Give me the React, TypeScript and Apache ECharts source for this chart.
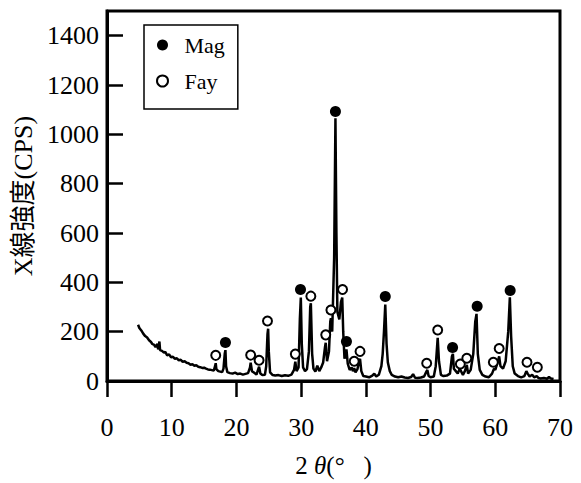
import React, { useEffect, useRef } from "react";
import * as echarts from "echarts";

// XRD pattern: [2θ (deg), intensity (CPS)]
const xrdPattern: [number, number][] = [
  [4.8, 228], [5.0, 215], [5.3, 205], [5.6, 192], [5.9, 182], [6.2, 176], [6.5, 165],
  [6.8, 158], [7.0, 150], [7.3, 146], [7.5, 138], [7.8, 150], [7.9, 128], [8.1, 160],
  [8.2, 125], [8.5, 122], [8.8, 115], [9.0, 118], [9.3, 104], [9.6, 108], [9.9, 96],
  [10.2, 98], [10.5, 90], [10.8, 92], [11.1, 84], [11.4, 86], [11.7, 78], [12.0, 80],
  [12.3, 74], [12.6, 72], [12.9, 66], [13.2, 68], [13.5, 62], [13.8, 64], [14.1, 58],
  [14.4, 56], [14.7, 53], [15.0, 54], [15.3, 50], [15.6, 47], [15.9, 46], [16.2, 44],
  [16.5, 42], [16.7, 60], [16.8, 72], [16.9, 48], [17.2, 40], [17.5, 38], [17.8, 36],
  [18.0, 50], [18.2, 112], [18.3, 125], [18.4, 60], [18.6, 36], [19.0, 32], [19.4, 30],
  [19.8, 34], [20.2, 28], [20.6, 30], [21.0, 26], [21.4, 29], [21.8, 32], [22.1, 55],
  [22.2, 74], [22.4, 40], [22.7, 34], [23.1, 26], [23.4, 50], [23.5, 58], [23.7, 30],
  [24.0, 24], [24.4, 25], [24.6, 60], [24.8, 190], [24.9, 212], [25.0, 120], [25.2, 35],
  [25.6, 24], [26.0, 22], [26.5, 24], [27.0, 20], [27.5, 23], [28.0, 21], [28.5, 26],
  [28.9, 45], [29.1, 78], [29.3, 40], [29.6, 55], [29.8, 250], [29.95, 338], [30.1, 150],
  [30.3, 55], [30.6, 40], [30.9, 48], [31.2, 120], [31.4, 300], [31.5, 315], [31.7, 110],
  [31.9, 50], [32.2, 38], [32.5, 62], [32.8, 40], [33.1, 55], [33.4, 75], [33.7, 140],
  [33.8, 155], [34.0, 80], [34.3, 120], [34.5, 240], [34.6, 255], [34.8, 200], [35.1, 500],
  [35.3, 1065], [35.45, 600], [35.6, 280], [35.9, 250], [36.15, 320], [36.35, 338],
  [36.5, 200], [36.7, 90], [36.9, 110], [37.0, 128], [37.2, 70], [37.5, 45], [37.8, 55],
  [38.0, 40], [38.2, 52], [38.4, 35], [38.7, 48], [39.0, 85], [39.1, 90], [39.3, 40],
  [39.6, 20], [40.0, 18], [40.5, 15], [41.0, 22], [41.3, 30], [41.6, 18], [42.0, 25],
  [42.4, 60], [42.6, 110], [42.8, 200], [43.0, 310], [43.2, 150], [43.4, 75], [43.7, 40],
  [44.0, 25], [44.5, 18], [45.0, 15], [45.5, 18], [46.0, 14], [46.5, 12], [47.0, 16],
  [47.3, 28], [47.6, 13], [48.0, 12], [48.5, 14], [49.0, 18], [49.3, 35], [49.5, 45],
  [49.7, 20], [50.0, 15], [50.5, 18], [50.8, 60], [51.1, 175], [51.3, 80], [51.6, 25],
  [52.0, 20], [52.5, 22], [53.0, 30], [53.3, 100], [53.45, 110], [53.6, 50], [53.9, 40],
  [54.2, 30], [54.5, 50], [54.7, 40], [55.0, 25], [55.3, 40], [55.6, 65], [55.8, 30],
  [56.2, 45], [56.6, 110], [56.9, 240], [57.1, 272], [57.3, 110], [57.6, 45], [58.0, 25],
  [58.5, 18], [59.0, 15], [59.5, 30], [59.8, 50], [60.0, 45], [60.3, 70], [60.6, 100],
  [60.8, 60], [61.2, 50], [61.6, 80], [62.0, 200], [62.25, 339], [62.45, 180], [62.7, 60],
  [63.0, 30], [63.5, 20], [64.0, 15], [64.5, 20], [64.8, 40], [65.0, 30], [65.3, 18],
  [65.7, 25], [66.0, 15], [66.4, 20], [66.7, 12], [67.0, 10], [67.5, 12], [68.0, 9],
  [68.3, 16], [68.6, 10], [69.0, 8],
];

// Peak markers: [2θ, marker height]
const magPeaks: [number, number][] = [
  [18.3, 156], [29.9, 371], [35.3, 1093], [37.0, 160], [43.0, 343], [53.4, 136],
  [57.2, 303], [62.3, 367],
];
const fayPeaks: [number, number][] = [
  [16.8, 104], [22.2, 105], [23.5, 84], [24.8, 243], [29.1, 109], [31.5, 344],
  [33.8, 187], [34.6, 288], [36.4, 371], [38.2, 80], [39.1, 120], [49.4, 72],
  [51.1, 207], [54.6, 69], [55.6, 92], [59.7, 76], [60.6, 132], [64.9, 76], [66.5, 56],
];

const xTicks = [0, 10, 20, 30, 40, 50, 60, 70];
const yTicks = [0, 200, 400, 600, 800, 1000, 1200, 1400];

const serif = "Liberation Serif, DejaVu Serif, serif";
const cjk = "Liberation Serif, Noto Sans CJK JP, serif";

export default function App() {
  const ref = useRef<HTMLDivElement>(null);
  useEffect(() => {
    if (!ref.current) return;
    const chart = echarts.init(ref.current, undefined, { renderer: "svg" });
    const axisLabelStyle = {
      fontFamily: "Liberation Serif",
      fontSize: 26,
      fontWeight: "normal",
      color: "#000",
    };
    chart.setOption({
      animation: false,
      backgroundColor: "#fff",
      textStyle: { fontFamily: "Liberation Serif", color: "#000" },
      grid: {
        left: 107,
        right: 21,
        top: 11,
        bottom: 95,
        show: true,
        borderColor: "#000",
        borderWidth: 3,
      },
      legend: {
        left: 144,
        top: 25,
        orient: "vertical",
        data: ["Mag", "Fay"],
        backgroundColor: "#fff",
        borderColor: "#000",
        borderWidth: 1.5,
        borderRadius: 0,
        padding: [9, 13, 17, 12],
        itemGap: 14,
        itemWidth: 34,
        itemHeight: 11,
        textStyle: { fontFamily: serif, fontSize: 22, color: "#000" },
      },
      xAxis: {
        type: "value",
        min: xTicks[0],
        max: xTicks[xTicks.length - 1],
        interval: 10,
        name: "{n|2 }{t|θ}{n|(°   )}",
        nameLocation: "middle",
        nameGap: 72,
        nameTextStyle: {
          rich: {
            n: { fontFamily: serif, fontSize: 25, color: "#000" },
            t: { fontFamily: serif, fontSize: 25, color: "#000", fontStyle: "italic" },
          },
        },
        axisLine: { show: true, lineStyle: { color: "#000", width: 3 } },
        axisTick: { show: true, inside: false, length: 16, lineStyle: { color: "#000", width: 2.5 } },
        axisLabel: {
          ...axisLabelStyle,
          margin: 33,
          formatter: (v: number) => String(v),
        },
        splitLine: { show: false },
      },
      yAxis: {
        type: "value",
        min: yTicks[0],
        max: 1500,
        interval: 200,
        name: "X線強度(CPS)",
        nameLocation: "middle",
        nameGap: 62,
        nameTextStyle: { fontFamily: cjk, fontSize: 26, color: "#000" },
        axisLine: { show: true, lineStyle: { color: "#000", width: 3 } },
        axisTick: { show: true, inside: true, length: 16, lineStyle: { color: "#000", width: 2.5 } },
        axisLabel: {
          ...axisLabelStyle,
          margin: 8,
          showMaxLabel: false,
          formatter: (v: number) => String(v),
        },
        splitLine: { show: false },
      },
      series: [
        {
          name: "XRD",
          type: "line",
          data: xrdPattern,
          showSymbol: false,
          lineStyle: { color: "#000", width: 2.5 },
          z: 2,
        },
        {
          name: "Mag",
          type: "scatter",
          data: magPeaks,
          symbol: "circle",
          symbolSize: 11,
          itemStyle: { color: "#000", opacity: 1 },
          z: 3,
        },
        {
          name: "Fay",
          type: "scatter",
          data: fayPeaks,
          symbol: "circle",
          symbolSize: 9,
          itemStyle: { color: "#fff", borderColor: "#000", borderWidth: 2, opacity: 1 },
          z: 3,
        },
      ],
    });
    return () => chart.dispose();
  }, []);
  return (
    <div
      ref={ref}
      style={{ position: "fixed", left: 0, top: 0, width: 581, height: 483 }}
    />
  );
}
